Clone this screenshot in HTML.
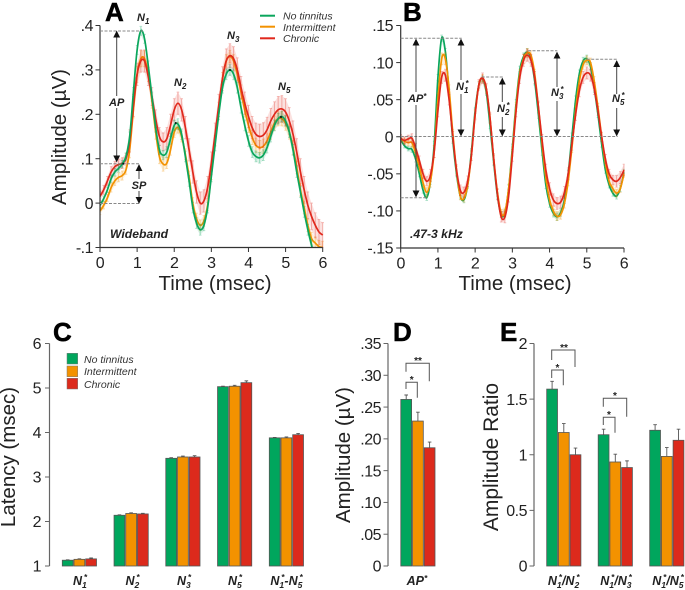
<!DOCTYPE html>
<html lang="en">
<head>
<meta charset="utf-8">
<title>Auditory amplitude and latency figure</title>
<style>
html,body{margin:0;padding:0;background:#fff}
svg{display:block;font-family:"Liberation Sans",sans-serif}
.panel{font-size:26px;font-weight:bold;fill:#000;stroke:#000;stroke-width:.5}
.tick{font-size:16px;fill:#222;letter-spacing:-.5px}
.title{font-size:20.5px;fill:#222}
.ann{font-size:11px;font-weight:bold;font-style:italic;fill:#222}
.cat{font-size:12.5px;font-weight:bold;font-style:italic;fill:#222;text-anchor:middle}
.leg{font-size:10.5px;font-style:italic;fill:#333}
.dash{stroke:#888;stroke-width:1;stroke-dasharray:3 1.5;fill:none}
.arr{stroke:#444;stroke-width:1;fill:none;marker-start:url(#ah);marker-end:url(#ah)}
.brk{stroke:#555;stroke-width:1;fill:none}
.star{font-size:10px;font-weight:bold;fill:#222;text-anchor:middle}
</style>
</head>
<body>
<svg id="fig" xmlns="http://www.w3.org/2000/svg" width="685" height="590" viewBox="0 0 685 590">
<defs>
<marker id="ah" viewBox="0 0 8 8" refX="7" refY="4" markerWidth="7" markerHeight="7" orient="auto-start-reverse" markerUnits="userSpaceOnUse"><path d="M0 0L8 4L0 8Z" fill="#111"/></marker>
<clipPath id="clipA"><rect x="100" y="18" width="224" height="229.5"/></clipPath>
<clipPath id="clipB"><rect x="400.7" y="18" width="224" height="230"/></clipPath>
</defs>

<g id="layerA"></g>
<g id="layerB"></g>
<g id="layerC"></g>
<g id="layerD"></g>
<g id="layerE"></g>

<text class="panel" x="105" y="21">A</text>
<text class="panel" x="403" y="21">B</text>
<text class="panel" x="53" y="341">C</text>
<text class="panel" x="393" y="341">D</text>
<text class="panel" x="500" y="341">E</text>

<text class="title" x="215" y="290" text-anchor="middle">Time (msec)</text>
<text class="title" x="515" y="290" text-anchor="middle">Time (msec)</text>
<text class="title" transform="translate(66 137) rotate(-90)" text-anchor="middle">Amplitude (µV)</text>
<text class="title" transform="translate(15 457) rotate(-90)" text-anchor="middle">Latency (msec)</text>
<text class="title" transform="translate(350 455) rotate(-90)" text-anchor="middle">Amplitude (µV)</text>
<text class="title" style="font-size:21px" transform="translate(498 457) rotate(-90)" text-anchor="middle">Amplitude Ratio</text>

<g>
<path class="dash" d="M100 31H143M100 163.7H139M100 203.5H139"/>
<path class="arr" d="M116.7 31.5V161.5"/>
<rect x="107" y="96" width="20" height="12" fill="#fff"/>
<text class="ann" x="116.7" y="106" text-anchor="middle">AP</text>
<path class="arr" d="M139 165V179" style="marker-end:none"/>
<path class="arr" d="M139 191V203" style="marker-start:none"/>
<text class="ann" x="139" y="189" text-anchor="middle">SP</text>
<text class="ann" x="137" y="21">N<tspan dy="3" font-size="8">1</tspan></text>
<text class="ann" x="174" y="86">N<tspan dy="3" font-size="8">2</tspan></text>
<text class="ann" x="227" y="39">N<tspan dy="3" font-size="8">3</tspan></text>
<text class="ann" x="278" y="90">N<tspan dy="3" font-size="8">5</tspan></text>
<text class="ann" x="110" y="238" style="font-size:12.2px">Wideband</text>
<circle cx="123.3" cy="163.7" r="1" fill="#111"/>
<circle cx="175.7" cy="123" r="1" fill="#111"/>
<circle cx="230" cy="70" r="1" fill="#111"/>
<circle cx="281" cy="117" r="1" fill="#111"/>
</g>
<g>
<path d="M260 15.7H275" stroke="#0aa65c" stroke-width="2"/>
<path d="M260 26.7H275" stroke="#f39200" stroke-width="2"/>
<path d="M260 38.3H275" stroke="#e0281c" stroke-width="2"/>
<text class="leg" x="283" y="19.5">No tinnitus</text>
<text class="leg" x="283" y="31">Intermittent</text>
<text class="leg" x="283" y="42">Chronic</text>
</g>

<g>
<path class="dash" d="M400.7 38.3H461.7M400.7 136.5H617.7M400.7 197.7H427M481.7 77H502.7M528 50.7H557.3M586.7 59.3H617.3"/>
<path class="arr" d="M416 39.5V196.5"/>
<path class="arr" d="M461 39.5V135.5"/>
<path class="arr" d="M502.3 78.5V135.5"/>
<path class="arr" d="M557 52.5V135.5"/>
<path class="arr" d="M616.7 61V135.5"/>
<rect x="406" y="92" width="21" height="13" fill="#fff"/>
<rect x="453" y="80" width="18" height="14" fill="#fff"/>
<rect x="494" y="102" width="18" height="15" fill="#fff"/>
<rect x="549" y="87" width="17" height="14" fill="#fff"/>
<rect x="609" y="94" width="18" height="14" fill="#fff"/>
<text class="ann" x="408" y="102">AP<tspan dy="-3" font-size="8">*</tspan></text>
<text class="ann" x="456" y="90">N<tspan dy="3" font-size="8">1</tspan><tspan dx="-3" dy="-7" font-size="8">*</tspan></text>
<text class="ann" x="497" y="112">N<tspan dy="3" font-size="8">2</tspan><tspan dx="-3" dy="-7" font-size="8">*</tspan></text>
<text class="ann" x="551" y="96">N<tspan dy="3" font-size="8">3</tspan><tspan dx="-3" dy="-7" font-size="8">*</tspan></text>
<text class="ann" x="612" y="102">N<tspan dy="3" font-size="8">5</tspan><tspan dx="-3" dy="-7" font-size="8">*</tspan></text>
<text class="ann" x="410" y="238" style="font-size:12.2px">.47-3 kHz</text>
</g>

<g>
<rect x="67" y="353.3" width="10.7" height="10.7" fill="#00a65d" stroke="#777" stroke-width=".5"/>
<rect x="67" y="366" width="10.7" height="10.7" fill="#f39200" stroke="#777" stroke-width=".5"/>
<rect x="67" y="378.3" width="10.7" height="10.7" fill="#dc2a1c" stroke="#777" stroke-width=".5"/>
<text class="leg" x="84" y="363">No tinnitus</text>
<text class="leg" x="84" y="375">Intermittent</text>
<text class="leg" x="84" y="388">Chronic</text>
</g>

<g>
<text class="cat" x="80" y="585">N<tspan dy="3" font-size="8.5">1</tspan><tspan dx="-3" dy="-8" font-size="8.5">*</tspan></text>
<text class="cat" x="132.5" y="585">N<tspan dy="3" font-size="8.5">2</tspan><tspan dx="-3" dy="-8" font-size="8.5">*</tspan></text>
<text class="cat" x="184" y="585">N<tspan dy="3" font-size="8.5">3</tspan><tspan dx="-3" dy="-8" font-size="8.5">*</tspan></text>
<text class="cat" x="235" y="585">N<tspan dy="3" font-size="8.5">5</tspan><tspan dx="-3" dy="-8" font-size="8.5">*</tspan></text>
<text class="cat" x="286.5" y="585">N<tspan dy="3" font-size="8.5">1</tspan><tspan dx="-3" dy="-8" font-size="8.5">*</tspan><tspan dy="5">-N</tspan><tspan dy="3" font-size="8.5">5</tspan><tspan dx="-3" dy="-8" font-size="8.5">*</tspan></text>
</g>
<g>
<text class="cat" x="417" y="585">AP<tspan dy="-4" font-size="8.5">*</tspan></text>
</g>
<g>
<text class="cat" x="563.7" y="585">N<tspan dy="3" font-size="8.5">1</tspan><tspan dx="-3" dy="-8" font-size="8.5">*</tspan><tspan dy="5">/N</tspan><tspan dy="3" font-size="8.5">2</tspan><tspan dx="-3" dy="-8" font-size="8.5">*</tspan></text>
<text class="cat" x="616" y="585">N<tspan dy="3" font-size="8.5">1</tspan><tspan dx="-3" dy="-8" font-size="8.5">*</tspan><tspan dy="5">/N</tspan><tspan dy="3" font-size="8.5">3</tspan><tspan dx="-3" dy="-8" font-size="8.5">*</tspan></text>
<text class="cat" x="668" y="585">N<tspan dy="3" font-size="8.5">1</tspan><tspan dx="-3" dy="-8" font-size="8.5">*</tspan><tspan dy="5">/N</tspan><tspan dy="3" font-size="8.5">5</tspan><tspan dx="-3" dy="-8" font-size="8.5">*</tspan></text>
</g>

<g>
<path class="brk" d="M406 389V382.3H417.3V397.7"/>
<path class="brk" d="M406 371.7V363.3H429.3V381.3"/>
<text class="star" x="411.7" y="383">*</text>
<text class="star" x="418" y="364">**</text>
</g>
<g>
<path class="brk" d="M551.7 378V370H563.3V385.3"/>
<path class="brk" d="M551.7 360V350H575V367"/>
<path class="brk" d="M603.3 425V417.3H615V432.7"/>
<path class="brk" d="M603.3 406.7V398.3H626.7V416.7"/>
<text class="star" x="557.5" y="371">*</text>
<text class="star" x="564" y="351">**</text>
<text class="star" x="609" y="418">*</text>
<text class="star" x="615" y="399">*</text>
</g>
</svg>

<script>
// ---------- Waveform data (0 to 6 msec in 0.1 msec steps) ----------
const timeSamples = [0,.1,.2,.3,.4,.5,.6,.7,.8,.9,1,1.1,1.2,1.3,1.4,1.5,1.6,1.7,1.8,1.9,2,2.1,2.2,2.3,2.4,2.5,2.6,2.7,2.8,2.9,3,3.1,3.2,3.3,3.4,3.5,3.6,3.7,3.8,3.9,4,4.1,4.2,4.3,4.4,4.5,4.6,4.7,4.8,4.9,5,5.1,5.2,5.3,5.4,5.5,5.6,5.7,5.8,5.9,6];
const wideGreen = [-.005,.01,.03,.055,.07,.078,.088,.105,.15,.25,.345,.388,.37,.31,.24,.17,.12,.108,.115,.145,.175,.178,.155,.105,.05,-.01,-.045,-.06,-.05,-.01,.06,.13,.2,.26,.29,.3,.29,.26,.215,.175,.14,.115,.105,.102,.108,.125,.15,.175,.19,.195,.185,.16,.12,.07,.025,-.02,-.06,-.095,-.125,-.14,-.15];
const wideOrange = [-.018,-.005,.012,.035,.05,.058,.062,.075,.12,.21,.29,.325,.325,.29,.23,.16,.105,.088,.09,.12,.16,.17,.15,.11,.06,0,-.035,-.05,-.04,-.005,.065,.14,.215,.28,.32,.33,.32,.29,.25,.21,.175,.148,.13,.125,.128,.14,.16,.18,.19,.19,.18,.16,.125,.08,.03,-.01,-.05,-.08,-.09,-.098,-.1];
const wideRed = [.015,.03,.05,.07,.082,.087,.09,.1,.14,.22,.29,.32,.32,.285,.24,.19,.15,.138,.145,.175,.21,.225,.21,.17,.12,.07,.025,0,.005,.035,.09,.155,.22,.28,.32,.332,.325,.3,.26,.225,.195,.17,.155,.15,.153,.165,.185,.2,.21,.212,.205,.185,.155,.115,.07,.03,-.005,-.03,-.05,-.065,-.072];
// SEM values, one per half millisecond
const wideErrGreen = [.006,.008,.01,.01,.012,.012,.012,.012,.012,.012,.012,.012,.012];
const wideErrOrange = [.008,.01,.018,.016,.012,.012,.012,.014,.016,.016,.016,.014,.014];
const wideErrRed = [.01,.012,.025,.02,.025,.025,.025,.027,.025,.028,.03,.03,.028];

const bandGreen = [-.004,-.012,-.016,-.017,-.03,-.05,-.072,-.082,-.06,-.01,.08,.133,.115,.06,-.005,-.05,-.08,-.085,-.065,-.02,.035,.07,.078,.06,.015,-.035,-.08,-.105,-.103,-.07,-.015,.045,.09,.108,.114,.105,.075,.03,-.02,-.065,-.09,-.103,-.108,-.102,-.085,-.05,0,.05,.085,.102,.105,.095,.065,.03,-.01,-.045,-.065,-.076,-.08,-.07,-.048];
const bandOrange = [-.003,-.006,-.008,-.008,-.022,-.04,-.062,-.075,-.06,-.02,.05,.105,.105,.065,.005,-.045,-.08,-.083,-.065,-.025,.03,.07,.079,.065,.025,-.03,-.075,-.103,-.102,-.07,-.02,.04,.085,.105,.113,.11,.085,.04,-.01,-.055,-.085,-.1,-.107,-.105,-.09,-.06,-.015,.035,.075,.097,.103,.1,.075,.04,0,-.035,-.06,-.07,-.076,-.07,-.05];
const bandRed = [-.002,-.005,-.003,-.002,-.015,-.032,-.05,-.06,-.052,-.02,.035,.08,.083,.05,0,-.045,-.072,-.075,-.06,-.025,.03,.07,.079,.065,.025,-.03,-.078,-.108,-.108,-.08,-.025,.035,.08,.103,.11,.103,.08,.04,-.005,-.045,-.07,-.085,-.09,-.088,-.075,-.05,-.01,.03,.062,.08,.086,.083,.065,.035,0,-.03,-.05,-.058,-.06,-.055,-.045];
const bandErrGreen = [.003,.004,.004,.004,.004,.004,.005,.005,.005,.005,.005,.004,.004];
const bandErrOrange = [.004,.006,.008,.005,.005,.005,.006,.006,.006,.006,.006,.005,.005];
const bandErrRed = [.005,.006,.008,.007,.007,.007,.008,.008,.008,.008,.008,.006,.008];

const timeTicks = [0,1,2,3,4,5,6];
const wideTicks = [-.1,0,.1,.2,.3,.4];
const wideTickLabels = ['-.1','0','.1','.2','.3','.4'];
const bandTicks = [-.15,-.1,-.05,0,.05,.1,.15];
const bandTickLabels = ['-.15','-.10','-.05','0','.05','.10','.15'];

// ---------- Bar data ----------
const latencyGreen = [1.13,2.14,3.42,5.03,3.88];
const latencyOrange = [1.15,2.18,3.45,5.04,3.88];
const latencyRed = [1.16,2.17,3.45,5.12,3.95];
const latencyErrGreen = [.01,.01,.015,.01,.01];
const latencyErrOrange = [.01,.015,.02,.02,.02];
const latencyErrRed = [.02,.015,.03,.04,.03];
const latencyTicks = [1,2,3,4,5,6];

const ampGreen = [.262];
const ampOrange = [.228];
const ampRed = [.186];
const ampErrGreen = [.007];
const ampErrOrange = [.014];
const ampErrRed = [.009];
const ampTicks = [0,.05,.1,.15,.2,.25,.3,.35];
const ampTickLabels = ['0','.05','.10','.15','.20','.25','.30','.35'];

const ratioGreen = [1.59,1.18,1.22];
const ratioOrange = [1.2,.935,.985];
const ratioRed = [1,.885,1.13];
const ratioErrGreen = [.07,.05,.05];
const ratioErrOrange = [.08,.07,.08];
const ratioErrRed = [.06,.06,.1];
const ratioTicks = [0,.5,1,1.5,2];
const ratioTickLabels = ['0','0.5','1','1.5','2'];

const NS = 'http://www.w3.org/2000/svg';
const GREEN = '#0aa65c', ORANGE = '#f39200', RED = '#e0281c';

function linear(d0, d1, r0, r1) {
  return v => r0 + (v - d0) * (r1 - r0) / (d1 - d0);
}
function svgEl(tag, parent) {
  const el = document.createElementNS(NS, tag);
  parent.appendChild(el);
  return el;
}
function smoothPath(xs, ys) {
  let d = 'M' + xs[0].toFixed(2) + ' ' + ys[0].toFixed(2);
  for (let i = 0; i < xs.length - 1; i++) {
    const a = Math.max(i - 1, 0), b = Math.min(i + 2, xs.length - 1);
    const c1x = xs[i] + (xs[i + 1] - xs[a]) / 6, c1y = ys[i] + (ys[i + 1] - ys[a]) / 6;
    const c2x = xs[i + 1] - (xs[b] - xs[i]) / 6, c2y = ys[i + 1] - (ys[b] - ys[i]) / 6;
    d += 'C' + c1x.toFixed(2) + ' ' + c1y.toFixed(2) + ' ' + c2x.toFixed(2) + ' ' + c2y.toFixed(2) + ' ' + xs[i + 1].toFixed(2) + ' ' + ys[i + 1].toFixed(2);
  }
  return d;
}
function yAxis(parent, x, y, ticks, labels, color, labelRight, name) {
  const line = svgEl('line', parent);
  
  
  line.setAttribute('x1', x); line.setAttribute('x2', x);
  line.setAttribute('y1', y(ticks[0])); line.setAttribute('y2', y(ticks[ticks.length - 1]));
  line.setAttribute('stroke', color); line.setAttribute('stroke-width', '1.2');
  ticks.forEach((t, i) => {
    const m = svgEl('line', parent);
    
    
    m.setAttribute('x1', x - 4.5); m.setAttribute('x2', x);
    m.setAttribute('y1', y(t)); m.setAttribute('y2', y(t));
    m.setAttribute('stroke', color); m.setAttribute('stroke-width', '1');
    const lab = svgEl('text', parent);
    
    
    lab.setAttribute('class', 'tick');
    lab.setAttribute('x', labelRight); lab.setAttribute('y', y(t) + 5.7);
    lab.setAttribute('text-anchor', 'end');
    lab.textContent = labels[i];
  });
}
function xAxis(parent, x, y0, ticks, color, name) {
  const line = svgEl('line', parent);
  
  
  line.setAttribute('x1', x(ticks[0])); line.setAttribute('x2', x(ticks[ticks.length - 1]));
  line.setAttribute('y1', y0); line.setAttribute('y2', y0);
  line.setAttribute('stroke', color); line.setAttribute('stroke-width', '1.2');
  ticks.forEach(t => {
    const m = svgEl('line', parent);
    
    
    m.setAttribute('x1', x(t)); m.setAttribute('x2', x(t));
    m.setAttribute('y1', y0); m.setAttribute('y2', y0 + 4.5);
    m.setAttribute('stroke', color); m.setAttribute('stroke-width', '1');
    const lab = svgEl('text', parent);
    
    
    lab.setAttribute('class', 'tick');
    lab.setAttribute('x', x(t)); lab.setAttribute('y', y0 + 20.5);
    lab.setAttribute('text-anchor', 'middle');
    lab.textContent = t;
  });
}
function drawWave(parent, x, y, values, errs, color, name, clipId) {
  const errAt = t => errs[Math.min(errs.length - 1, Math.round(t * 2))];
  const clip = svgEl('g', parent);
  
  
  clip.setAttribute('clip-path', 'url(#' + clipId + ')');
  const area = svgEl('path', clip);
  
  
  const upper = timeSamples.map((t, i) => x(t).toFixed(2) + ' ' + y(values[i] + errAt(t)).toFixed(2));
  const lower = timeSamples.map((t, i) => x(t).toFixed(2) + ' ' + y(values[i] - errAt(t)).toFixed(2)).reverse();
  area.setAttribute('d', 'M' + upper.concat(lower).join('L') + 'Z');
  area.setAttribute('fill', color);
  area.setAttribute('fill-opacity', '0.14');
  const bars = svgEl('path', clip);
  
  
  let d = '';
  timeSamples.forEach((t, i) => {
    const e = errAt(t);
    const px = x(t), hi = y(values[i] + e), lo = y(values[i] - e);
    d += 'M' + px.toFixed(2) + ' ' + hi.toFixed(2) + 'V' + lo.toFixed(2);
    d += 'M' + (px - 1.3).toFixed(2) + ' ' + hi.toFixed(2) + 'h2.6';
    d += 'M' + (px - 1.3).toFixed(2) + ' ' + lo.toFixed(2) + 'h2.6';
  });
  bars.setAttribute('d', d);
  bars.setAttribute('stroke', color);
  bars.setAttribute('stroke-opacity', '0.32');
  bars.setAttribute('stroke-width', '1');
  bars.setAttribute('fill', 'none');
  const line = svgEl('path', clip);
  
  
  line.setAttribute('d', smoothPath(timeSamples.map(x), values.map(y)));
  line.setAttribute('fill', 'none');
  line.setAttribute('stroke', color);
  line.setAttribute('stroke-width', '1.7');
}
function drawBars(parent, band, y, y0, values, errs, color, seriesIndex, name) {
  values.forEach((v, g) => {
    const left = band(g, seriesIndex), w = 10.8;
    const err = svgEl('path', parent);
    
    
    const cx = left + w / 2;
    err.setAttribute('d', 'M' + cx + ' ' + y(v) + 'V' + y(v + errs[g]) + 'M' + (cx - 1.8) + ' ' + y(v + errs[g]) + 'h3.6');
    err.setAttribute('stroke', '#555');
    err.setAttribute('stroke-width', '0.9');
    err.setAttribute('fill', 'none');
    const bar = svgEl('rect', parent);
    
    
    bar.setAttribute('x', left);
    bar.setAttribute('y', y(v));
    bar.setAttribute('width', w);
    bar.setAttribute('height', y0 - y(v));
    bar.setAttribute('fill', color);
    bar.setAttribute('stroke', '#555');
    bar.setAttribute('stroke-width', '0.8');
  });
}

// Panel A
const xA = linear(0, 6, 100, 322.7), yA = linear(-.1, .4, 247.5, 25.5);
const gA = document.getElementById('layerA');
drawWave(gA, xA, yA, wideOrange, wideErrOrange, ORANGE, 'a-intermittent', 'clipA');
drawWave(gA, xA, yA, wideRed, wideErrRed, RED, 'a-chronic', 'clipA');
drawWave(gA, xA, yA, wideGreen, wideErrGreen, GREEN, 'a-no-tinnitus', 'clipA');
yAxis(gA, 100, yA, wideTicks, wideTickLabels, '#333', 93, 'a-y');
xAxis(gA, xA, 247.5, timeTicks, '#333', 'a-x');

// Panel B
const xB = linear(0, 6, 400.7, 624), yB = linear(-.15, .15, 248, 25.5);
const gB = document.getElementById('layerB');
drawWave(gB, xB, yB, bandGreen, bandErrGreen, GREEN, 'b-no-tinnitus', 'clipB');
drawWave(gB, xB, yB, bandOrange, bandErrOrange, ORANGE, 'b-intermittent', 'clipB');
drawWave(gB, xB, yB, bandRed, bandErrRed, RED, 'b-chronic', 'clipB');
yAxis(gB, 400.7, yB, bandTicks, bandTickLabels, '#333', 393, 'b-y');
xAxis(gB, xB, 248, timeTicks, '#333', 'b-x');

// Panel C
const yC = linear(1, 6, 566, 343.5);
const bandC = (g, s) => 62.3 + g * 51.75 + s * 11.7;
const gC = document.getElementById('layerC');
drawBars(gC, bandC, yC, 566, latencyGreen, latencyErrGreen, '#00a65d', 0, 'c-no-tinnitus');
drawBars(gC, bandC, yC, 566, latencyOrange, latencyErrOrange, '#f39200', 1, 'c-intermittent');
drawBars(gC, bandC, yC, 566, latencyRed, latencyErrRed, '#dc2a1c', 2, 'c-chronic');
yAxis(gC, 49.5, yC, latencyTicks, latencyTicks, '#666', 41, 'c-y');

// Panel D
const yD = linear(0, .35, 566, 343.5);
const bandD = (g, s) => 400.8 + g * 51.75 + s * 11.7;
const gD = document.getElementById('layerD');
drawBars(gD, bandD, yD, 566, ampGreen, ampErrGreen, '#00a65d', 0, 'd-no-tinnitus');
drawBars(gD, bandD, yD, 566, ampOrange, ampErrOrange, '#f39200', 1, 'd-intermittent');
drawBars(gD, bandD, yD, 566, ampRed, ampErrRed, '#dc2a1c', 2, 'd-chronic');
yAxis(gD, 388, yD, ampTicks, ampTickLabels, '#666', 381, 'd-y');

// Panel E
const yE = linear(0, 2, 566, 343.5);
const bandE = (g, s) => 546.7 + g * 51.5 + s * 11.7;
const gE = document.getElementById('layerE');
drawBars(gE, bandE, yE, 566, ratioGreen, ratioErrGreen, '#00a65d', 0, 'e-no-tinnitus');
drawBars(gE, bandE, yE, 566, ratioOrange, ratioErrOrange, '#f39200', 1, 'e-intermittent');
drawBars(gE, bandE, yE, 566, ratioRed, ratioErrRed, '#dc2a1c', 2, 'e-chronic');
yAxis(gE, 534, yE, ratioTicks, ratioTickLabels, '#666', 527, 'e-y');
</script>
</body>
</html>
